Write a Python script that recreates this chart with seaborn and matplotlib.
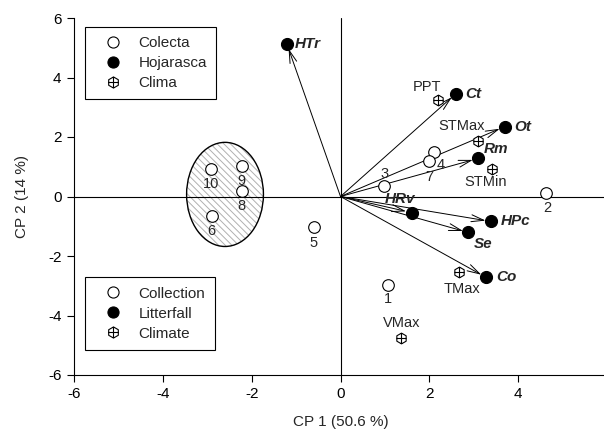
import numpy as np
import pandas as pd
import matplotlib
matplotlib.use("Agg")
import matplotlib.pyplot as plt
import matplotlib.path as mpath
from matplotlib.patches import Ellipse
from matplotlib.lines import Line2D
import seaborn as sns

# ---------------- data ----------------
col_labels = ["1", "2", "3", "4", "5", "6", "7", "8", "9", "10"]
col_x = [1.06, 4.63, 0.99, 2.11, -0.60, -2.90, 1.99, -2.22, -2.22, -2.92]
col_y = [-2.99, 0.13, 0.34, 1.48, -1.04, -0.64, 1.18, 0.20, 1.04, 0.94]

lit_labels = ["HTr", "Ct", "Ot", "Rm", "HRv", "HPc", "Se", "Co"]
lit_x = [-1.21, 2.60, 3.70, 3.10, 1.60, 3.39, 2.88, 3.28]
lit_y = [5.14, 3.46, 2.35, 1.28, -0.54, -0.84, -1.21, -2.72]

cli_labels = ["PPT", "STMax", "STMin", "TMax", "VMax"]
cli_x = [2.20, 3.10, 3.42, 2.67, 1.37]
cli_y = [3.23, 1.85, 0.94, -2.55, -4.77]

ticks = [-6, -4, -2, 0, 2, 4, 6]
xlabel = "CP 1 (50.6 %)"
ylabel = "CP 2 (14 %)"
legend1 = ["Colecta", "Hojarasca", "Clima"]
legend2 = ["Collection", "Litterfall", "Climate"]

# label offsets in points (dx, dy, ha)
col_off = {"1": (0, -10, "center"), "2": (1, -11, "center"), "3": (0, 9, "center"),
           "4": (5, -9, "center"), "5": (0, -11, "center"), "6": (0, -11, "center"),
           "7": (0, -11, "center"), "8": (0, -11, "center"), "9": (0, -11, "center"),
           "10": (0, -11, "center")}
lit_off = {"HTr": (6, 0, "left"), "Ct": (7, 0, "left"), "Ot": (7, 0, "left"),
           "Rm": (4, 7, "left"), "HRv": (-8, 10, "center"), "HPc": (7, 0, "left"),
           "Se": (4, -8, "left"), "Co": (7, 0, "left")}
cli_off = {"PPT": (-8, 10, "center"), "STMax": (-12, 11, "center"),
           "STMin": (-5, -10, "center"), "TMax": (2, -12, "center"),
           "VMax": (0, 11, "center")}

# ---------------- style ----------------
sns.set_style("white")
plt.rcParams["font.family"] = ["Liberation Sans", "DejaVu Sans"]
plt.rcParams["hatch.linewidth"] = 0.7
plt.rcParams["hatch.color"] = "#b0b0b0"

fig = plt.figure(figsize=(6.04, 4.37), dpi=100)
ax = fig.add_axes([74/604, 62/437, (607-74)/604, (375-18)/437])

# clima marker: hexagon with cross
ang = np.deg2rad([90, 150, 210, 270, 330, 30])
hv = [(np.cos(a), np.sin(a)) for a in ang]
verts = hv + [hv[0], (0, -1), (0, 1), (-0.866, 0), (0.866, 0)]
codes = [mpath.Path.MOVETO] + [mpath.Path.LINETO]*5 + [mpath.Path.CLOSEPOLY] + \
        [mpath.Path.MOVETO, mpath.Path.LINETO, mpath.Path.MOVETO, mpath.Path.LINETO]
clima_marker = mpath.Path(verts, codes)

# ellipse (hatched)
ell_h = Ellipse((-2.6, 0.07), 1.73, 3.5, facecolor="white", edgecolor="#b0b0b0",
                hatch="\\\\\\\\\\", lw=0, zorder=1)
ax.add_patch(ell_h)
ell_b = Ellipse((-2.6, 0.07), 1.73, 3.5, facecolor="none", edgecolor="black",
                lw=1.0, zorder=2)
ax.add_patch(ell_b)

ax.axhline(0, color="black", lw=0.8, zorder=1)
ax.axvline(0, color="black", lw=0.8, zorder=1)

# arrows
for x, y in zip(lit_x, lit_y):
    ax.annotate("", xy=(x, y), xytext=(0, 0),
                arrowprops=dict(arrowstyle="->,head_length=0.9,head_width=0.25",
                                color="black", lw=0.7, shrinkA=0, shrinkB=4),
                zorder=2)

df_col = pd.DataFrame({"x": col_x, "y": col_y})
df_lit = pd.DataFrame({"x": lit_x, "y": lit_y})
df_cli = pd.DataFrame({"x": cli_x, "y": cli_y})

sns.scatterplot(data=df_col, x="x", y="y", ax=ax, s=70, marker="o",
                facecolor="white", edgecolor="black", linewidth=0.8, zorder=3)
sns.scatterplot(data=df_lit, x="x", y="y", ax=ax, s=75, marker="o",
                color="black", edgecolor="black", linewidth=0.8, zorder=3)
sns.scatterplot(data=df_cli, x="x", y="y", ax=ax, s=60, marker=clima_marker,
                facecolor="white", edgecolor="black", linewidth=0.8, zorder=3)

for lab, x, y in zip(col_labels, col_x, col_y):
    dx, dy, ha = col_off[lab]
    ax.annotate(lab, (x, y), xytext=(dx, dy), textcoords="offset points",
                ha=ha, va="center", fontsize=10.5)
for lab, x, y in zip(lit_labels, lit_x, lit_y):
    dx, dy, ha = lit_off[lab]
    ax.annotate(lab, (x, y), xytext=(dx, dy), textcoords="offset points",
                ha=ha, va="center", fontsize=11, fontweight="bold", fontstyle="italic")
for lab, x, y in zip(cli_labels, cli_x, cli_y):
    dx, dy, ha = cli_off[lab]
    ax.annotate(lab, (x, y), xytext=(dx, dy), textcoords="offset points",
                ha=ha, va="center", fontsize=10.5)

ax.set_xlim(-6, 6)
ax.set_ylim(-6, 6)
ax.set_xticks(ticks)
ax.set_yticks(ticks)
ax.set_xticklabels([str(t) for t in ticks])
ax.set_yticklabels([str(t) for t in ticks])
ax.tick_params(axis="both", direction="out", length=5, width=0.8, labelsize=11,
               colors="black", pad=4)
ax.tick_params(left=True, bottom=True)
for s in ["top", "right"]:
    ax.spines[s].set_visible(False)
for s in ["left", "bottom"]:
    ax.spines[s].set_color("black")
    ax.spines[s].set_linewidth(0.8)
ax.set_xlabel(xlabel, fontsize=11, labelpad=10)
ax.set_ylabel(ylabel, fontsize=11, labelpad=14)


def handles():
    return [Line2D([], [], ls="", marker="o", ms=8, mfc="white", mec="black", mew=0.8),
            Line2D([], [], ls="", marker="o", ms=8, mfc="black", mec="black", mew=0.8),
            Line2D([], [], ls="", marker=clima_marker, ms=8, mfc="white", mec="black", mew=0.8)]


kw = dict(frameon=True, fancybox=False, framealpha=1, edgecolor="black",
          fontsize=11, handletextpad=0.4, labelspacing=0.4, borderpad=0.6,
          handlelength=2.5, borderaxespad=0)
leg1 = ax.legend(handles(), legend1, loc="upper left",
                 bbox_to_anchor=(0.021, 0.975), **kw)
leg1.get_frame().set_linewidth(0.8)
ax.add_artist(leg1)
leg2 = ax.legend(handles(), legend2, loc="lower left",
                 bbox_to_anchor=(0.021, 0.07), **kw)
leg2.get_frame().set_linewidth(0.8)

fig.savefig("out.png", dpi=100)
